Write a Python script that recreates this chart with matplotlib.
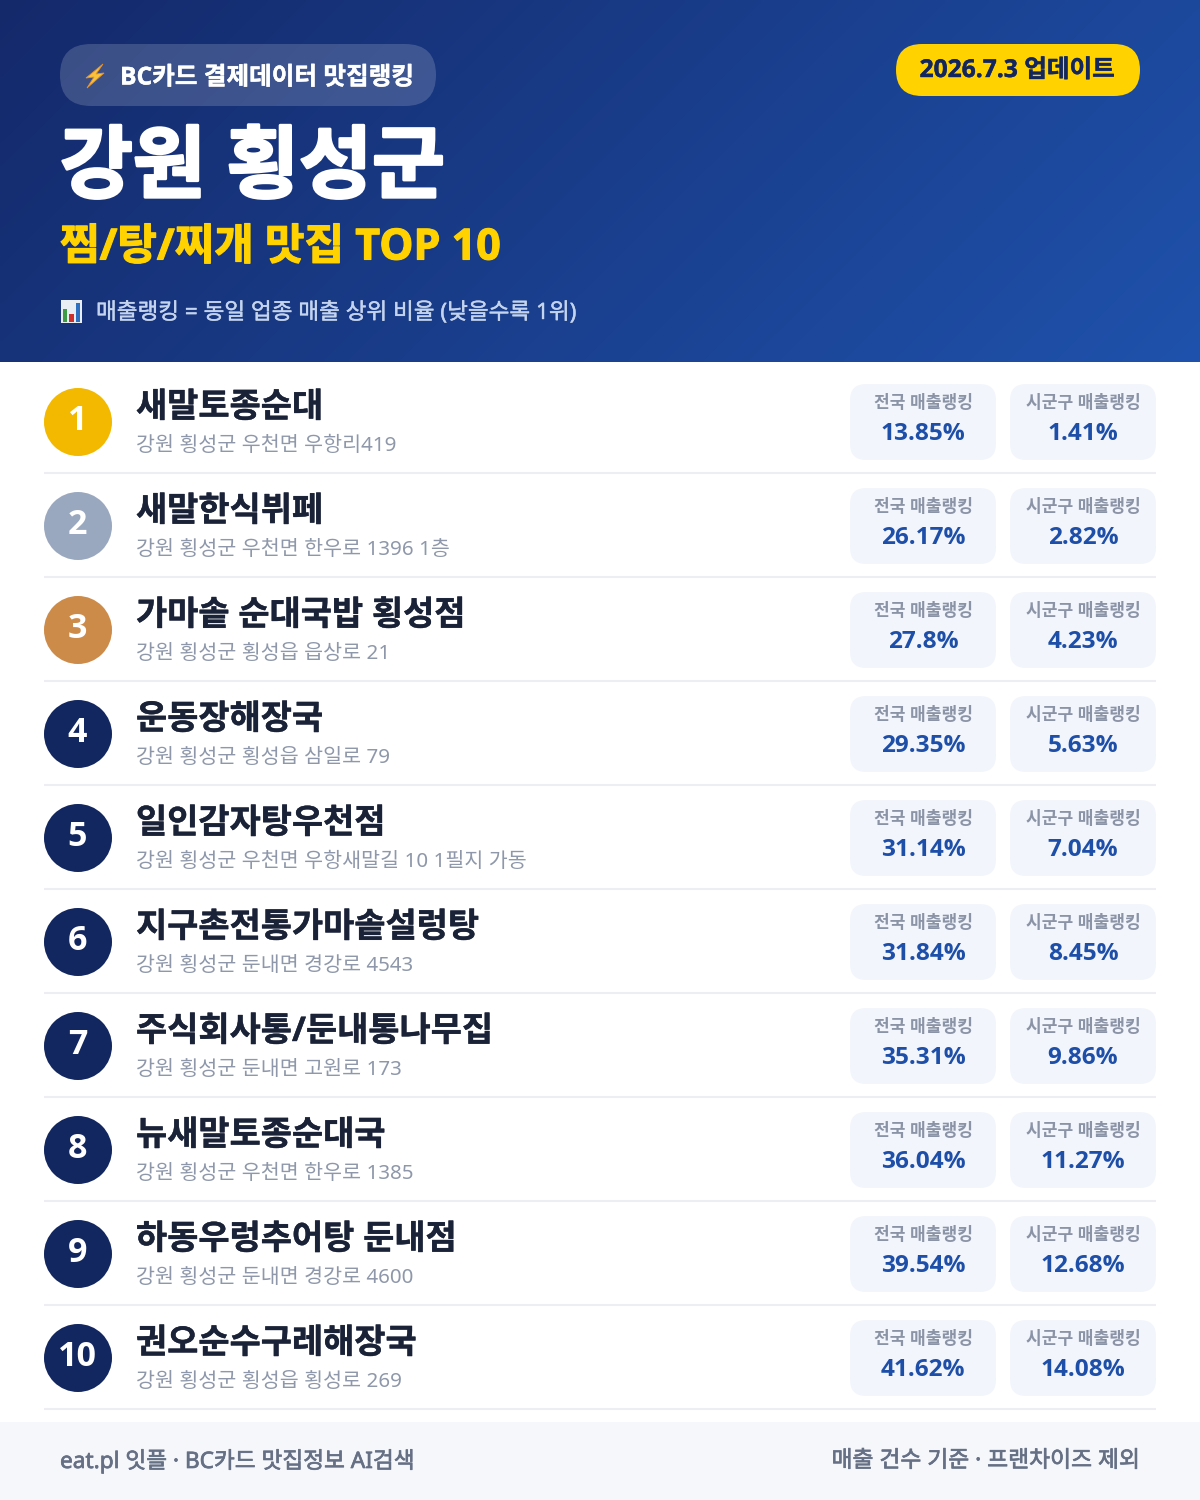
#!/usr/bin/env python
"""
Rebuilds the Hoengseong-gun restaurant ranking card with matplotlib
"""

import numpy as np
import matplotlib
matplotlib.use("Agg")
import matplotlib.pyplot as plt
import matplotlib.patheffects as pe
from matplotlib.patches import Circle, FancyBboxPatch, Polygon, Rectangle

plt.rcParams['font.family'] = ['Noto Sans', 'Noto Sans CJK KR', 'DejaVu Sans']
BOLD_FONTS = ['Open Sans', 'Noto Sans CJK KR', 'DejaVu Sans']

# the data
ranks = [1, 2, 3, 4, 5, 6, 7, 8, 9, 10]
names = ["새말토종순대", "새말한식뷔페", "가마솥 순대국밥 횡성점", "운동장해장국", "일인감자탕우천점",
         "지구촌전통가마솥설렁탕", "주식회사통/둔내통나무집", "뉴새말토종순대국", "하동우렁추어탕 둔내점",
         "권오순수구레해장국"]
addresses = ["강원 횡성군 우천면 우항리419", "강원 횡성군 우천면 한우로 1396 1층", "강원 횡성군 횡성읍 읍상로 21",
             "강원 횡성군 횡성읍 삼일로 79", "강원 횡성군 우천면 우항새말길 10 1필지 가동",
             "강원 횡성군 둔내면 경강로 4543", "강원 횡성군 둔내면 고원로 173", "강원 횡성군 우천면 한우로 1385",
             "강원 횡성군 둔내면 경강로 4600", "강원 횡성군 횡성읍 횡성로 269"]
national = [13.85, 26.17, 27.8, 29.35, 31.14, 31.84, 35.31, 36.04, 39.54, 41.62]
local = [1.41, 2.82, 4.23, 5.63, 7.04, 8.45, 9.86, 11.27, 12.68, 14.08]

NAVY = "#12265f"
BLUE = "#1e4fa8"
YELLOW = "#ffd200"
medals = {1: "#f2b900", 2: "#9aa8bf", 3: "#cd8b4a"}


def px(size):
    # css pixels to points at dpi 100
    return size * 0.72


def pill(ax, x0, y0, x1, y1, r, **kw):
    ax.add_patch(FancyBboxPatch((x0 + r, y0 + r), x1 - x0 - 2 * r, y1 - y0 - 2 * r,
                                boxstyle="round,pad=%f,rounding_size=%f" % (r, r),
                                linewidth=0, **kw))


def label(ax, x, y, s, color, size, ha="left", weight="bold", thick=0):
    # thick adds a thin outline, the fonts only come in a few weights
    family = BOLD_FONTS if weight == "bold" else plt.rcParams['font.family']
    t = ax.text(x, y, s, color=color, fontsize=px(size), fontweight=weight, family=family,
                va="center", ha=ha, zorder=3)
    if thick:
        t.set_path_effects([pe.withStroke(linewidth=thick, foreground=color)])
    return t


fig = plt.figure(figsize=(12, 15), dpi=100, facecolor="white")
ax = fig.add_axes([0, 0, 1, 1])

# header gradient
gx, gy = np.meshgrid(np.linspace(0, 1, 300), np.linspace(0, 1, 90))
t = (gx * 1200 + gy * 362) / (1200 + 362)
c0 = np.array([0x14, 0x29, 0x6a]) / 255
c1 = np.array([0x1f, 0x52, 0xac]) / 255
grad = c0[None, None, :] + (c1 - c0)[None, None, :] * t[:, :, None]
ax.imshow(grad, extent=(0, 1200, 362, 0), aspect="auto", zorder=0, interpolation="bilinear")
ax.set_xlim(0, 1200)
ax.set_ylim(1500, 0)
ax.axis("off")

# header badges
pill(ax, 60, 44, 436, 106, 31, facecolor="white", alpha=0.17, zorder=1)
ax.add_patch(Polygon([(103, 64), (86, 78), (94, 77), (87, 88), (104, 73), (96, 74)],
                     facecolor="#f9c33c", edgecolor="#e8902a", linewidth=0.6, zorder=2))
label(ax, 120, 78, "BC카드 결제데이터 맛집랭킹", "white", 24.6, thick=0.3)
pill(ax, 896, 44, 1140, 96, 26, facecolor=YELLOW, zorder=1)
label(ax, 1017, 70.5, "2026.7.3 업데이트", NAVY, 24.6, ha="center", thick=0.3)

label(ax, 60, 171, "강원 횡성군", "white", 79.2, thick=2.0)
label(ax, 60, 248, "찜/탕/찌개 맛집 TOP 10", YELLOW, 43, thick=0.8)

# little bar chart icon
ax.add_patch(Rectangle((61, 300), 21, 23, facecolor="#e9eef5", edgecolor="none", zorder=2))
ax.add_patch(Rectangle((63, 309), 4, 13, facecolor="#3c9b45", edgecolor="none", zorder=3))
ax.add_patch(Rectangle((69, 314), 5, 8, facecolor="#d0302b", edgecolor="none", zorder=3))
ax.add_patch(Rectangle((76, 303), 4, 19, facecolor="#2d6fc0", edgecolor="none", zorder=3))
label(ax, 96, 313, "매출랭킹 = 동일 업종 매출 상위 비율 (낮을수록 1위)", "#c4d4ee", 22.55, weight="normal", thick=0.3)

# list rows
for i, rank in enumerate(ranks):
    top = 370 + i * 104
    cy = top + 52
    ax.add_patch(Circle((78, cy), 34, facecolor=medals.get(rank, NAVY), edgecolor="none", zorder=2))
    label(ax, 77.5, cy - 0.5, str(rank), "white", 34, ha="center")
    label(ax, 136, top + 38, names[i], "#1a2238", 33.9, thick=0.3)
    label(ax, 136, top + 76, addresses[i], "#8e98aa", 20.6, weight="normal")

    cards = [(850, 996, "전국 매출랭킹", national[i]), (1010, 1156, "시군구 매출랭킹", local[i])]
    for x0, x1, title, value in cards:
        pill(ax, x0, top + 14, x1, top + 90, 16, facecolor="#f2f5fc", zorder=1)
        label(ax, (x0 + x1) / 2, top + 33, title, "#8b94a6", 17.1, ha="center")
        label(ax, (x0 + x1) / 2, top + 64, "%s%%" % value, BLUE, 24.4, ha="center")

    ax.plot([44, 1156], [top + 103, top + 103], color="#eceef1", linewidth=1.5,
            solid_capstyle="butt", zorder=1)

# footer
ax.add_patch(Rectangle((0, 1422), 1200, 78, facecolor="#f5f7fb", edgecolor="none", zorder=1))
label(ax, 60, 1461, "eat.pl 잇플 · BC카드 맛집정보 AI검색", "#667085", 22.65, weight="normal", thick=0.5)
label(ax, 1140, 1461, "매출 건수 기준 · 프랜차이즈 제외", "#667085", 22.8, ha="right", weight="normal", thick=0.5)

fig.savefig("out.png", dpi=100)
